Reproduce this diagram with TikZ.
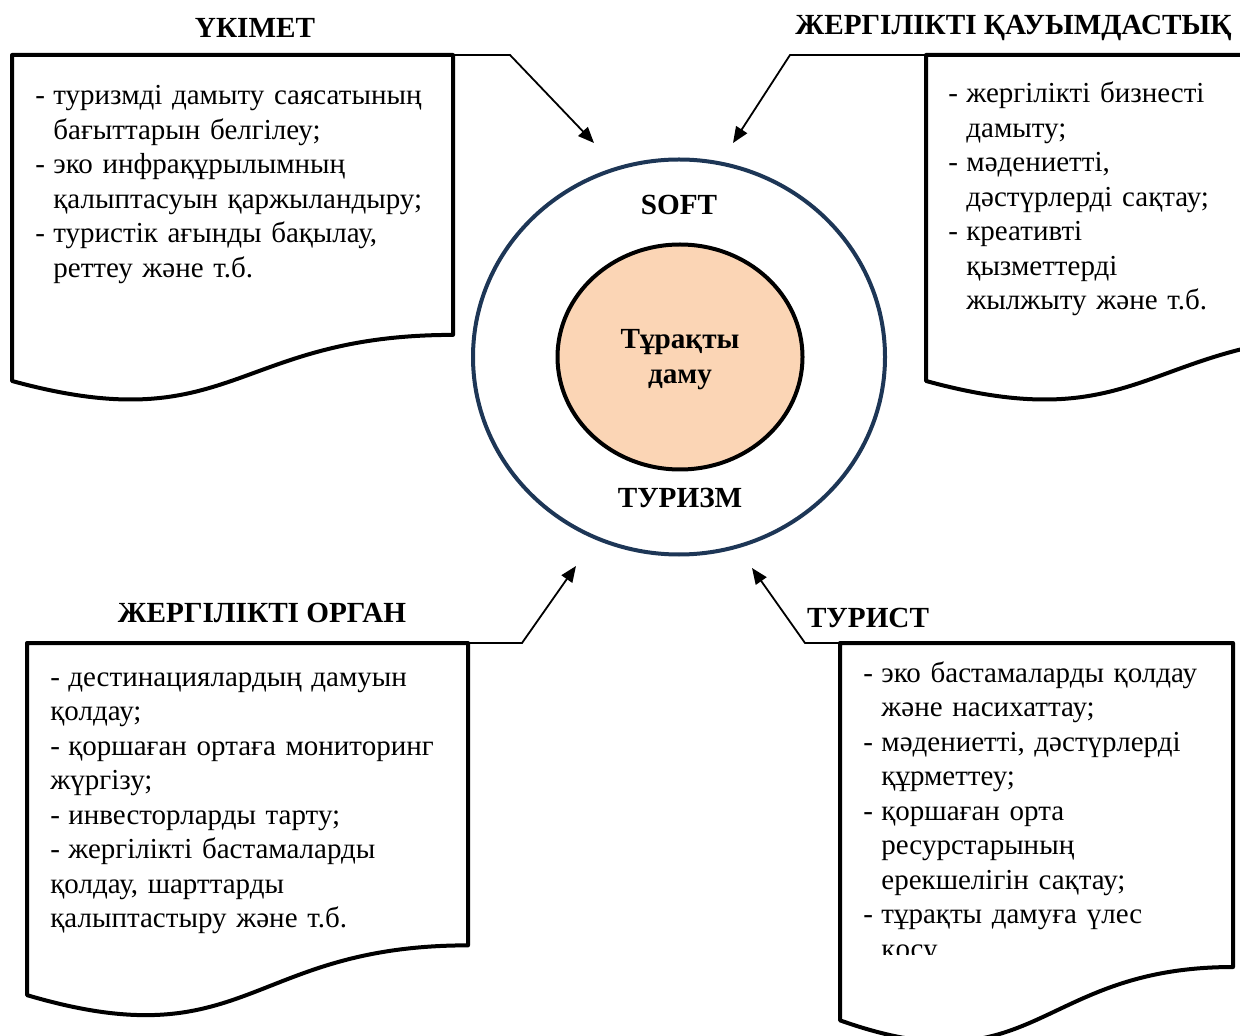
\documentclass[tikz,border=0pt]{standalone}
\usepackage{fontspec}
\setmainfont{Liberation Serif}
\usetikzlibrary{arrows.meta, shapes.geometric}

\definecolor{ringblue}{HTML}{1D3656}
\definecolor{peach}{HTML}{FBD5B5}

\newcommand{\itemdash}{\makebox[9pt][l]{-}}
\newcommand{\itemgap}{\hspace*{9pt}}

% document shape: left, top, width, height
\newcommand{\docshape}[4]{%
	\draw[docbox] (#1,#2) -- ({#1+#3},#2) -- ({#1+#3},{#2+0.802*#4})
		.. controls ({#1+0.5*#3},{#2+0.802*#4}) and ({#1+0.5*#3},{#2+1.107*#4}) .. (#1,{#2+0.934*#4}) -- cycle;}

\tikzset{
	docbox/.style={line width=2pt, line join=round, fill=white},
	link/.style={line width=0.9pt, -{Triangle[length=8pt,width=6.5pt]}},
	title/.style={font=\bfseries\fontsize{14.6}{17.5}\selectfont, inner sep=0pt},
	body/.style={font=\fontsize{14.5}{17.25}\selectfont, align=left, text width=220pt, inner sep=0pt, anchor=base west},
}

\begin{document}
\begin{tikzpicture}[x=0.5pt, y=-0.5pt]

	\useasboundingbox (0,0) rectangle (1240,1036);
	\clip (0,0) rectangle (1240,1036);

	\docshape{12}{55}{441}{349}
	\docshape{926}{55}{441}{349}
	\docshape{27}{643}{441}{377}
	\docshape{840}{643}{393}{404}

	\node[ellipse, draw=ringblue, line width=2pt, minimum width=206pt, minimum height=197.5pt] (ring) at (679,357) {};
	\node[ellipse, draw, fill=peach, line width=2pt, minimum width=122.5pt, minimum height=112.5pt] (core) at (680,357) {};

	\node[title] (soft) at (679,205) {SOFT};
	\node[title, align=center] (core-txt) at (680,360) {Тұрақты\\даму};
	\node[title] (tourism) at (680,498) {ТУРИЗМ};

	\node[title] (govt) at (255,28) {ҮКІМЕТ};
	\node[title, anchor=west] (comm) at (795,28) {ЖЕРГІЛІКТІ ҚАУЫМДАСТЫҚ};
	\node[title] (local) at (262,613) {ЖЕРГІЛІКТІ ОРГАН};
	\node[title] (tourist) at (868,618) {ТУРИСТ};

	\node[body] (govt-txt) at (35,105) {\itemdash туризмді дамыту саясатының\\
		\itemgap бағыттарын белгілеу;\\
		\itemdash эко инфрақұрылымның\\
		\itemgap қалыптасуын қаржыландыру;\\
		\itemdash туристік ағынды бақылау,\\
		\itemgap реттеу және т.б.};

	\node[body] (comm-txt) at (948,103) {\itemdash жергілікті бизнесті\\
		\itemgap дамыту;\\
		\itemdash мәдениетті,\\
		\itemgap дәстүрлерді сақтау;\\
		\itemdash креативті\\
		\itemgap қызметтерді\\
		\itemgap жылжыту және т.б.};

	\node[body] (local-txt) at (50,686) {\itemdash дестинациялардың дамуын\\
		қолдау;\\
		\itemdash қоршаған ортаға мониторинг\\
		жүргізу;\\
		\itemdash инвесторларды тарту;\\
		\itemdash жергілікті бастамаларды\\
		қолдау, шарттарды\\
		қалыптастыру және т.б.};

	\begin{scope}
		\clip (840,643) rectangle (1233,954);
		\node[body] (tourist-txt) at (863,682) {\itemdash эко бастамаларды қолдау\\
			\itemgap және насихаттау;\\
			\itemdash мәдениетті, дәстүрлерді\\
			\itemgap құрметтеу;\\
			\itemdash қоршаған орта\\
			\itemgap ресурстарының\\
			\itemgap ерекшелігін сақтау;\\
			\itemdash тұрақты дамуға үлес\\
			\itemgap қосу.};
	\end{scope}

	\coordinate (govt-c) at (453,55);
	\coordinate (govt-k) at (510,55);
	\coordinate (govt-t) at (594,143);
	\coordinate (comm-c) at (926,55);
	\coordinate (comm-k) at (790,55);
	\coordinate (comm-t) at (733,143);
	\coordinate (local-c) at (468,643);
	\coordinate (local-k) at (522,643);
	\coordinate (local-t) at (576,566);
	\coordinate (tourist-c) at (840,643);
	\coordinate (tourist-k) at (805,643);
	\coordinate (tourist-t) at (752,568);

	\draw[link] (govt-c) -- (govt-k) -- (govt-t);
	\draw[link] (comm-c) -- (comm-k) -- (comm-t);
	\draw[link] (local-c) -- (local-k) -- (local-t);
	\draw[link] (tourist-c) -- (tourist-k) -- (tourist-t);

\end{tikzpicture}
\end{document}
